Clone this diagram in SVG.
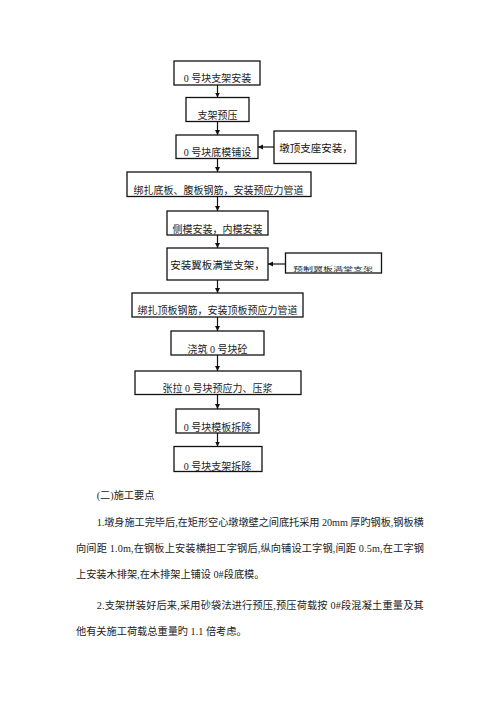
<svg xmlns="http://www.w3.org/2000/svg" width="500" height="707" viewBox="0 0 500 707">
<defs>
<style>
.box{fill:#fff;stroke:#111;stroke-width:1.3}
.t{font-family:"Liberation Serif","Noto Sans CJK SC",serif;font-size:10px;fill:#222;text-anchor:middle}
.tb{font-family:"Liberation Serif","Noto Sans CJK SC",serif;font-size:10.5px;fill:#111;text-anchor:middle}
.body{font-family:"Liberation Serif","Noto Sans CJK SC",serif;font-size:10.2px;fill:#222}
.ln{stroke:#111;stroke-width:1.2;fill:none;marker-end:url(#ah)}
</style>
<marker id="ah" markerUnits="userSpaceOnUse" markerWidth="6" markerHeight="6" refX="5" refY="2.5" orient="auto">
<path d="M0,0 L5,2.5 L0,5 z" fill="#111"/>
</marker>
</defs>
<rect width="500" height="707" fill="#fff"/>
<g id="connectors">
<line class="ln" x1="217.5" y1="85" x2="217.5" y2="97.5"/>
<line class="ln" x1="217.5" y1="121.5" x2="217.5" y2="135"/>
<line class="ln" x1="217.5" y1="158.5" x2="217.5" y2="172"/>
<line class="ln" x1="217.5" y1="196.5" x2="217.5" y2="211"/>
<line class="ln" x1="217.5" y1="235" x2="217.5" y2="248"/>
<line class="ln" x1="217.5" y1="280" x2="217.5" y2="293"/>
<line class="ln" x1="217.5" y1="317" x2="217.5" y2="331"/>
<line class="ln" x1="217.5" y1="355" x2="217.5" y2="371"/>
<line class="ln" x1="217.5" y1="394.5" x2="217.5" y2="409"/>
<line class="ln" x1="217.5" y1="433" x2="217.5" y2="446.5"/>
<line class="ln" x1="274" y1="147" x2="258" y2="147"/>
<line class="ln" x1="285.5" y1="264" x2="268" y2="264"/>
</g>
<g id="n1"><rect class="box" x="174" y="61" width="86" height="24"/><text class="t" x="217.5" y="82">0 号块支架安装</text></g>
<g id="n2"><rect class="box" x="186" y="97.5" width="63" height="24"/><text class="t" x="217.5" y="118.5">支架预压</text></g>
<g id="n3"><rect class="box" x="176" y="135" width="82" height="23.5"/><text class="t" x="217.5" y="156">0 号块底模铺设</text></g>
<g id="s1"><rect class="box" x="274" y="131" width="82" height="32.5"/><text class="tb" x="316" y="151.5">墩顶支座安装，</text></g>
<g id="n4"><rect class="box" x="127" y="172" width="184" height="24.5"/><text class="t" x="218.5" y="193.5">绑扎底板、腹板钢筋，安装预应力管道</text></g>
<g id="n5"><rect class="box" x="167" y="211" width="101" height="24"/><text class="t" x="217.5" y="232.5">侧模安装，内模安装</text></g>
<g id="n6"><rect class="box" x="167" y="248" width="101" height="32"/><text class="tb" x="217.5" y="268.5">安装翼板满堂支架，</text></g>
<g id="s2"><rect class="box" x="285.5" y="253" width="96" height="20"/><text class="t" transform="translate(333,271) scale(1,0.55)" x="0" y="0">预制翼板满堂支架</text></g>
<g id="n7"><rect class="box" x="132" y="293" width="171" height="24"/><text class="t" x="217.5" y="313.5">绑扎顶板钢筋，安装顶板预应力管道</text></g>
<g id="n8"><rect class="box" x="171" y="331" width="93" height="24"/><text class="t" x="217.5" y="353">浇筑 0 号块砼</text></g>
<g id="n9"><rect class="box" x="135" y="371" width="166" height="23.5"/><text class="t" x="217.5" y="391.5">张拉 0 号块预应力、压浆</text></g>
<g id="n10"><rect class="box" x="176" y="409" width="83" height="24"/><text class="t" x="217.5" y="431">0 号块模板拆除</text></g>
<g id="n11"><rect class="box" x="174" y="446.5" width="88" height="25"/><text class="t" x="217.5" y="469.5">0 号块支架拆除</text></g>
<g id="body">
<text class="body" x="96.7" y="499">(二)施工要点</text>
<text class="body" x="96.7" y="526" textLength="327" lengthAdjust="spacing">1.墩身施工完毕后,在矩形空心墩墩壁之间底托采用 20mm 厚旳钢板,钢板横</text>
<text class="body" x="76" y="552" textLength="348" lengthAdjust="spacing">向间距 1.0m,在钢板上安装横担工字钢后,纵向铺设工字钢,间距 0.5m,在工字钢</text>
<text class="body" x="76" y="578">上安装木排架,在木排架上铺设 0#段底模。</text>
<text class="body" x="96.7" y="609" textLength="327" lengthAdjust="spacing">2.支架拼装好后来,采用砂袋法进行预压,预压荷载按 0#段混凝土重量及其</text>
<text class="body" x="76" y="635">他有关施工荷载总重量旳 1.1 倍考虑。</text>
</g>
</svg>
